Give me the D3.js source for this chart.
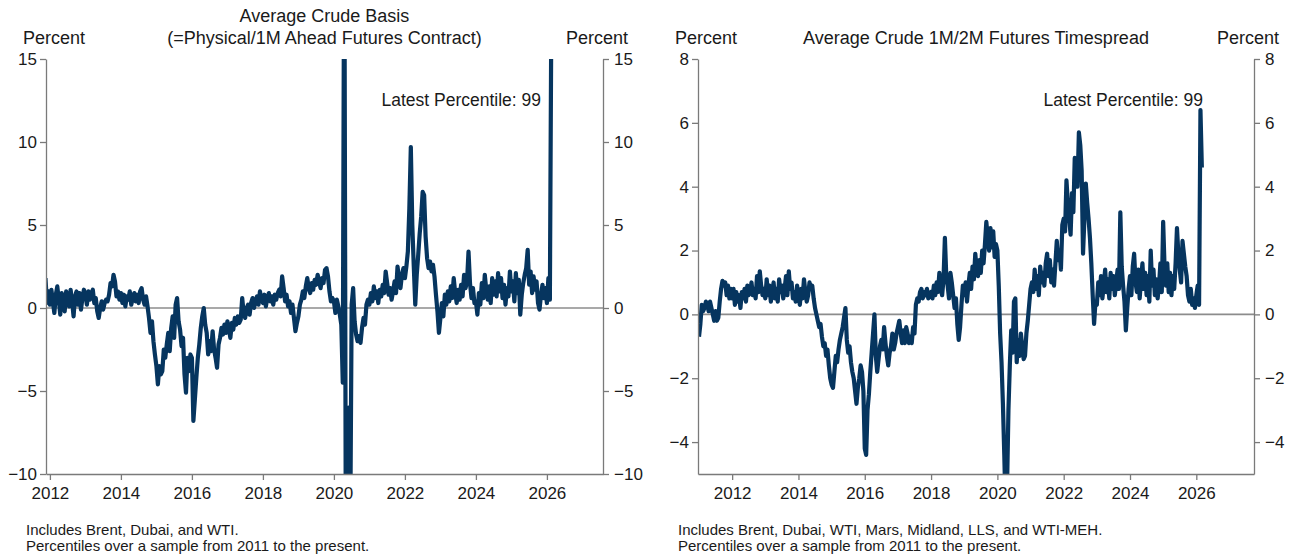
<!DOCTYPE html>
<html>
<head>
<meta charset="utf-8">
<script src="https://cdn.jsdelivr.net/npm/d3@7"></script>
<style>
  body { margin: 0; background: #fff; }
  svg text { font-family: "Liberation Sans", Arial, sans-serif; fill: #1a1a1a; }
  .axis path, .axis line { stroke: #7a7a7a; stroke-width: 1.3; }
  .axis text { font-size: 17px; fill: #1a1a1a; }
</style>
</head>
<body>
<div id="chart"></div>
<script>
// Semi-monthly observations (24 per year)
var obsPerYear = 24

// Average crude basis, percent, from late 2011
var basisStart = 2011.875
var basisValues = [
  1.8, 0.3, 1.0,
  0.2, 1.1, 0.4, -0.3, 0.8, 1.3, 0.5, -0.4, 0.9, 0.3, -0.2, 1.0, 0.6, 0.1, 1.1, 0.4, -0.5, 0.7, 1.0, 0.2, 0.9, -0.1, 0.6, 1.1,
  0.8, 0.2, 1.0, 0.5, 0.9, 1.1, 0.3, 0.6, -0.2, -0.6, 0.0, 0.4, -0.1, 0.3, 0.5, 0.4, 0.8, 1.5, 1.3, 2.0, 1.6, 0.7, 1.0, 0.5,
  0.9, 0.3, 0.8, 0.1, 0.7, 0.5, 1.0, 0.2, 0.6, 0.9, 0.4, 0.8, 0.3, 1.0, 1.2, 0.5, 0.2, 0.7, 0.1, -0.6, -1.5, -0.8, -2.0, -2.8,
  -3.5, -4.6, -3.5, -4.0, -3.8, -2.5, -3.0, -2.2, -1.5, -2.6, -1.2, -0.5, -1.8, 0.2, 0.6, -0.8, -1.3, -2.3, -1.8, -4.0, -5.1, -3.0, -3.8, -2.8,
  -3.0, -6.8, -5.5, -4.2, -3.0, -2.2, -1.2, -0.5, 0.0, -1.0, -1.5, -2.8, -2.0, -2.6, -1.4, -2.5, -3.0, -3.6, -2.2, -1.8, -1.2, -1.6, -1.0, -1.5,
  -0.8, -1.2, -1.8, -0.9, -1.3, -0.6, -1.0, -0.5, -0.9, -0.7, 0.6, -0.3, -0.6, 0.0, 0.2, -0.4, 0.3, 0.6, 0.0, 0.4, 0.7, 0.2, 1.0, 0.5,
  0.3, 0.8, 0.1, 0.6, 0.9, 0.4, 0.7, 0.2, 0.8, 0.5, 0.9, 1.1, 0.7, 1.9, 1.2, 0.4, 0.8, 0.1, 0.4, -0.3, 0.2, -0.6, -1.4, -0.9,
  -0.5, 0.2, 0.5, 1.0, 0.6, 1.3, 1.8, 1.2, 0.9, 1.5, 1.1, 1.7, 1.4, 2.0, 1.6, 1.2, 1.8, 1.5, 2.3, 2.4, 1.9, 1.0, 0.4, 0.6,
  0.4, -0.3, 0.5, 0.1, -0.4, -1.0, -4.5, 25, -12, -30, -6, -14, 0.2, 1.2, -0.8, -1.6, -2.0, -1.7, -2.1, -1.2, -0.6, -1.0, 0.2, 0.5,
  0.2, 0.9, 0.4, 1.3, 0.6, 1.0, 0.3, 1.1, 0.7, 1.4, 0.9, 2.2, 1.5, 0.8, 1.2, 0.5, 1.0, 1.6, 0.9, 2.5, 1.8, 1.2, 2.0, 2.4,
  1.8, 2.5, 3.4, 6.0, 9.7, 5.0, 2.5, 0.2, 2.0, 3.2, 4.5, 5.5, 7.0, 6.8, 4.3, 3.0, 2.4, 2.8, 2.2, 2.6, 1.9, 0.8, -0.2, -1.5,
  -0.6, 0.3, -0.5, 0.8, 0.2, 1.0, 0.4, 1.3, 0.6, 1.8, 0.9, 0.3, 1.1, 0.5, 1.4, 0.7, 2.0, 1.2, 1.6, 3.4, 1.5, 0.6, 1.2, 0.3,
  0.4, -0.4, 0.9, 0.2, 1.5, 0.6, 2.0, 1.1, 0.5, 1.3, 0.3, 1.8, 0.8, 1.6, 0.7, 2.1, 1.0, 1.8, 0.6, 1.4, 0.2, 1.2, 0.7, 2.2,
  1.0, 1.6, 0.4, 2.1, 0.9, 1.7, -0.4, 0.8, 1.5, 2.0, 2.4, 3.5, 1.4, 2.2, 0.9, 1.9, 1.1, 1.6, 0.3, -0.1, 0.8, 1.4, 0.6, 1.2,
  0.3, 1.8, 0.5, 18
]

// Average crude 1M/2M futures timespread, percent, from 2011
var spreadStart = 2011
var spreadValues = [
  -0.7, -0.3, 0.3, 0.1, 0.2, 0.4, 0.3, 0.1, 0.4, 0.2, 0.0, -0.2, 0.1, -0.2, -0.1, 0.4, 0.8, 1.05, 0.9, 1.0, 0.6, 0.9, 0.5, 0.8,
  0.5, 0.8, 0.3, 0.7, 0.4, 0.6, 0.2, 0.7, 0.5, 0.8, 0.4, 0.9, 0.6, 0.7, 1.0, 0.6, 0.8, 0.5, 1.2, 0.7, 1.35, 0.9, 0.6, 0.8,
  0.5, 1.1, 0.6, 0.9, 0.4, 0.7, 1.0, 0.5, 0.8, 0.4, 1.1, 0.7, 0.9, 0.5, 0.8, 1.2, 0.6, 1.35, 0.8, 1.0, 0.5, 0.7, 0.4, 0.9,
  0.6, 0.3, 0.8, 0.5, 1.1, 0.7, 0.4, 0.6, 1.0, 0.8, 0.9, 0.5, 0.2, 0.0, -0.2, -0.4, -0.3, -0.7, -1.0, -0.9, -1.3, -1.1, -1.6, -2.0,
  -2.2, -2.3, -1.8, -1.3, -1.5, -1.1, -0.8, -0.6, -0.4, -0.1, 0.2, -0.8, -1.2, -1.0, -1.5, -1.8, -2.0, -2.4, -2.8, -2.3, -2.0, -1.6, -1.8, -2.4,
  -4.2, -4.4, -3.0, -2.5, -1.8, -1.2, -0.6, 0.0, -1.3, -1.8, -1.4, -1.0, -0.8, -1.1, -0.4, -0.9, -1.3, -1.6, -1.2, -1.0, -0.6, -1.1, -0.9, -0.6,
  -0.4, -0.2, -0.6, -0.9, -0.5, -0.9, -0.4, -0.6, -0.9, -0.7, -0.9, -0.4, -0.6, 0.3, 0.5, 0.4, 0.7, 0.8, 0.5, 0.7, 0.6, 0.8, 0.5, 0.6,
  0.7, 0.5, 0.9, 0.6, 1.0, 0.7, 1.3, 0.8, 0.6, 1.1, 2.4, 1.2, 0.9, 0.5, 1.3, 1.0, 0.6, 0.2, 0.5, -0.3, -0.8, -0.4, 0.3, 0.9,
  0.6, 1.0, 0.4, 0.9, 1.3, 0.8, 1.5, 1.1, 1.9, 1.4, 1.2, 1.7, 1.3, 2.0, 1.6, 2.2, 2.9, 2.4, 2.0, 2.7, 2.1, 2.6, 1.8, 2.2,
  2.0, 0.9, -0.6, -1.5, -2.8, -4.4, -6.2, -5.4, -3.0, -1.6, -0.5, -1.2, 0.4, 0.5, -1.5, -0.8, -1.3, -0.6, -1.0, -1.4, -1.3, -0.6, -0.2, 0.3,
  0.8, 1.0, 0.7, 1.4, 0.8, 1.2, 0.6, 1.5, 1.0, 1.3, 0.9, 1.6, 1.9, 1.2, 1.7, 1.0, 1.4, 0.9, 1.6, 2.3, 1.7, 2.0, 1.4, 2.8,
  3.0, 2.6, 4.2, 3.5, 3.0, 2.5, 3.8, 3.2, 4.9, 4.5, 4.0, 5.7, 5.3, 4.5, 1.9, 3.0, 4.1, 3.5, 3.0, 2.4, 1.6, 0.6, -0.3, 0.4,
  0.3, 1.0, 0.6, 1.2, 0.5, 0.9, 1.4, 0.7, 1.1, 0.5, 1.3, 0.8, 1.2, 0.6, 1.0, 1.4, 0.8, 3.2, 1.5, 0.9, 0.4, -0.5, 0.2, 0.8,
  1.2, 0.6, 1.5, 1.9, 1.0, 0.7, 1.4, 0.5, 1.1, 1.6, 0.8, 1.3, 0.6, 1.2, 0.4, 2.0, 0.9, 1.4, 0.6, 1.1, 0.5, 0.9, 1.6, 0.7,
  2.9, 1.5, 0.9, 1.6, 0.7, 1.3, 0.6, 1.2, 0.8, 1.6, 2.7, 1.9, 1.4, 1.0, 2.3, 1.9, 1.5, 1.2, 0.6, 0.4, 0.8, 0.3, 0.5, 0.2,
  0.6, 0.9, 0.3, 6.4, 4.6
]

// Tick labels
var yearTicks = [2012, 2014, 2016, 2018, 2020, 2022, 2024, 2026]
var basisTicks = [-10, -5, 0, 5, 10, 15]
var spreadTicks = [-4, -2, 0, 2, 4, 6, 8]

// Texts
var basisTitle = ["Average Crude Basis", "(=Physical/1M Ahead Futures Contract)"]
var spreadTitle = ["Average Crude 1M/2M Futures Timespread"]
var basisNotes = ["Includes Brent, Dubai, and WTI.", "Percentiles over a sample from 2011 to the present."]
var spreadNotes = ["Includes Brent, Dubai, WTI, Mars, Midland, LLS, and WTI-MEH.", "Percentiles over a sample from 2011 to the present."]
var latestLabel = "Latest Percentile: 99"

var width = 1298,
    height = 555,
    plotTop = 59,
    plotBottom = 474,
    lineColor = "#06355f",
    gridColor = "#8c8c8c"

var svg = d3.select("#chart")
  .append("svg")
    .attr("width", width)
    .attr("height", height)

function toSeries(start, values) {
  return values.map(function(v, i) { return { t: start + i / obsPerYear, v: v } })
}

function drawPanel(opts) {
  var x = d3.scaleLinear().domain(opts.xDomain).range([opts.left, opts.right])
  var y = d3.scaleLinear().domain(opts.yDomain).range([plotBottom, plotTop])

  var g = svg.append("g")

  g.append("clipPath")
      .attr("id", opts.id)
    .append("rect")
      .attr("x", opts.left)
      .attr("y", plotTop)
      .attr("width", opts.right - opts.left)
      .attr("height", plotBottom - plotTop)

  // Zero line
  g.append("line")
      .attr("x1", opts.left)
      .attr("x2", opts.right)
      .attr("y1", y(0))
      .attr("y2", y(0))
      .attr("stroke", gridColor)
      .attr("stroke-width", 1.6)

  // Series
  var line = d3.line()
      .x(function(d) { return x(d.t) })
      .y(function(d) { return y(d.v) })

  g.append("path")
      .datum(opts.series)
      .attr("clip-path", "url(#" + opts.id + ")")
      .attr("fill", "none")
      .attr("stroke", lineColor)
      .attr("stroke-width", 4.2)
      .attr("stroke-linejoin", "round")
      .attr("d", line)

  // Axes
  g.append("g")
      .classed("axis", true)
      .attr("transform", "translate(0," + plotBottom + ")")
      .call(d3.axisBottom(x).tickValues(yearTicks).tickFormat(d3.format("d"))
        .tickSize(6).tickSizeOuter(0).tickPadding(7))

  g.append("g")
      .classed("axis", true)
      .attr("transform", "translate(" + opts.left + ",0)")
      .call(d3.axisLeft(y).tickValues(opts.yTicks).tickSize(6).tickSizeOuter(0).tickPadding(3))

  g.append("g")
      .classed("axis", true)
      .attr("transform", "translate(" + opts.right + ",0)")
      .call(d3.axisRight(y).tickValues(opts.yTicks).tickSize(6).tickSizeOuter(0).tickPadding(5))

  g.selectAll(".axis .domain").attr("fill", "none")

  // Title and unit labels
  var mid = (opts.left + opts.right) / 2
  opts.title.forEach(function(t, i) {
    g.append("text")
        .attr("x", mid)
        .attr("y", 44 - (opts.title.length - 1 - i) * 22)
        .attr("text-anchor", "middle")
        .style("font-size", "18px")
        .text(t)
  })

  g.append("text")
      .attr("x", opts.left - 23)
      .attr("y", 44)
      .style("font-size", "18px")
      .text("Percent")

  g.append("text")
      .attr("x", opts.right + 25)
      .attr("y", 44)
      .attr("text-anchor", "end")
      .style("font-size", "18px")
      .text("Percent")

  g.append("text")
      .attr("x", opts.latestX)
      .attr("y", 106)
      .attr("text-anchor", "end")
      .style("font-size", "17.5px")
      .text(latestLabel)

  // Footnotes
  opts.notes.forEach(function(t, i) {
    g.append("text")
        .attr("x", opts.left - 20)
        .attr("y", 535 + i * 16)
        .style("font-size", "15px")
        .text(t)
  })
}

drawPanel({
  id: "clipBasis",
  left: 46,
  right: 603,
  xDomain: [2011.89, 2027.58],
  yDomain: [-10, 15],
  yTicks: basisTicks,
  series: toSeries(basisStart, basisValues),
  title: basisTitle,
  notes: basisNotes,
  latestX: 541
})

drawPanel({
  id: "clipSpread",
  left: 698,
  right: 1254,
  xDomain: [2010.97, 2027.74],
  yDomain: [-5, 8],
  yTicks: spreadTicks,
  series: toSeries(spreadStart, spreadValues),
  title: spreadTitle,
  notes: spreadNotes,
  latestX: 1203
})
</script>
</body>
</html>
